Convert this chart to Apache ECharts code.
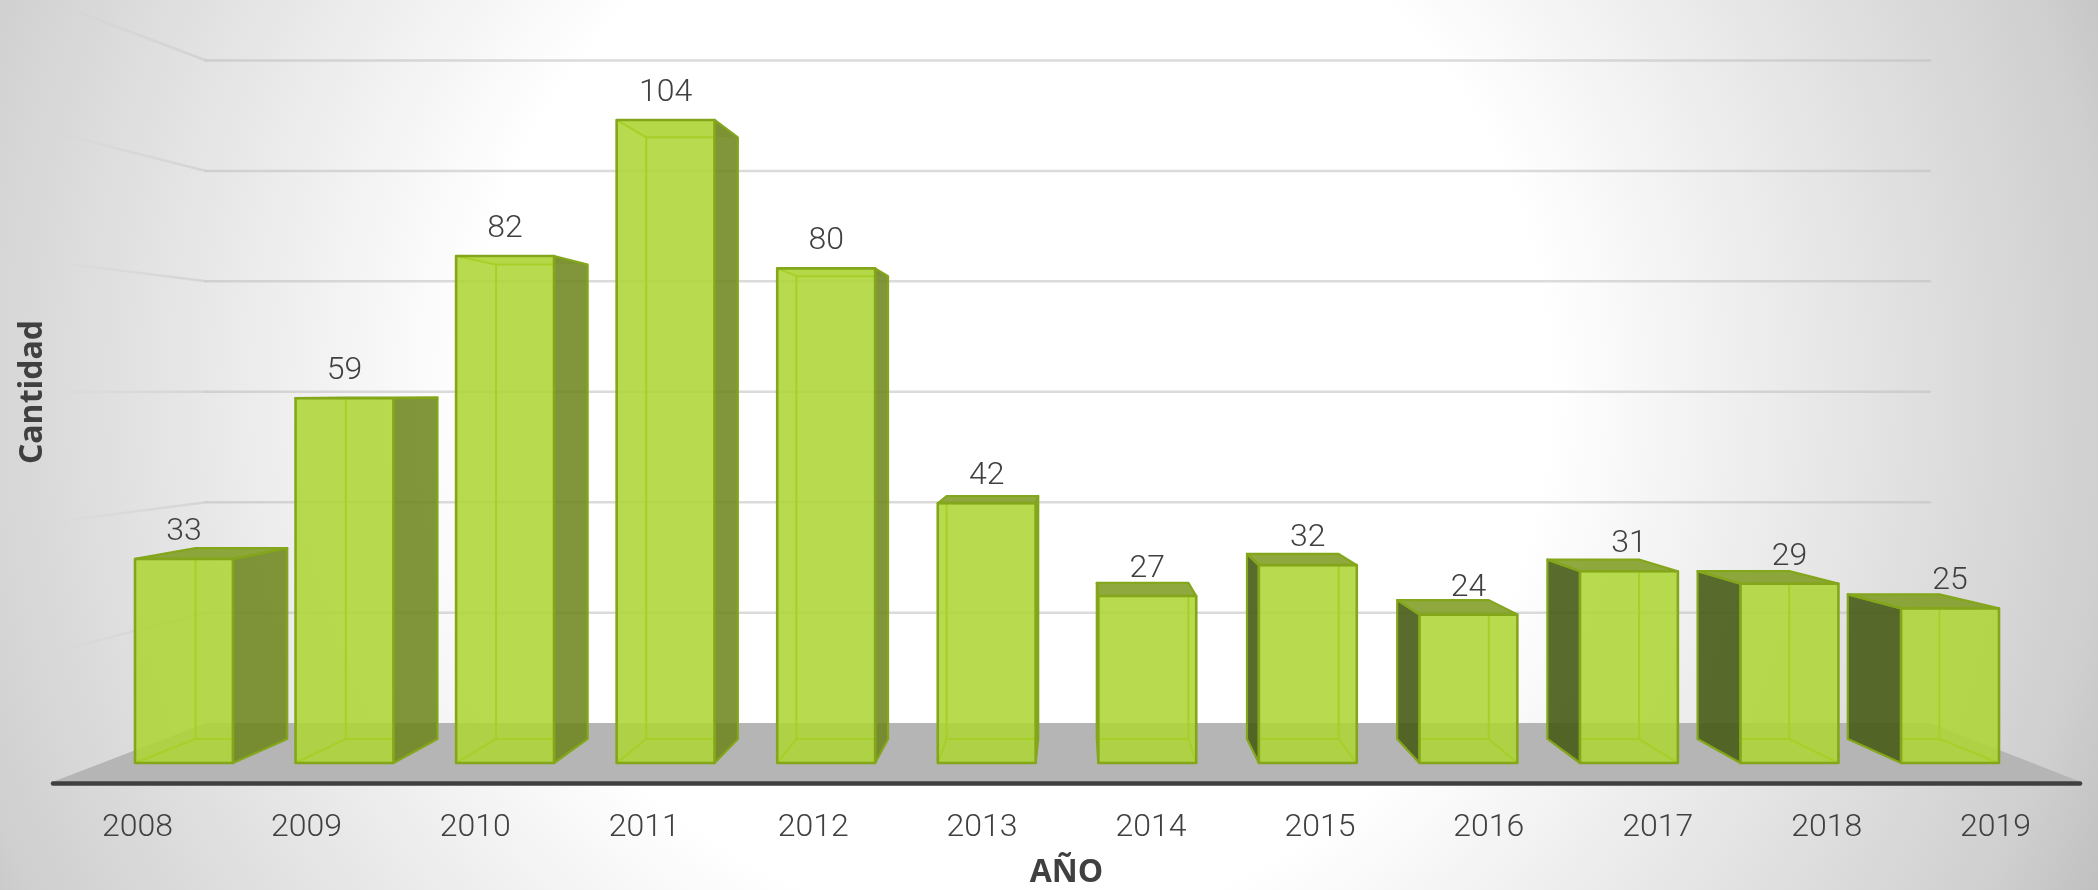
<!DOCTYPE html>
<html>
<head>
<meta charset="utf-8">
<style>html,body{margin:0;padding:0;background:#fff}#c{width:2098px;height:890px}</style>
<script src="https://cdn.jsdelivr.net/npm/echarts@6/dist/echarts.min.js"></script>
</head>
<body>
<div id="c"></div>
<script>
const categories = ['2008','2009','2010','2011','2012','2013','2014','2015','2016','2017','2018','2019'];
const cantidad = [33,59,82,104,80,42,27,32,24,31,29,25];
const gridTicks = [20,40,60,80,100,120];

const VP = [1075, 390];
const S_BAR_REAR = 0.9355, S_WALL = 0.893, S_FLOOR_FRONT = 1.0536;
const BAR_RATIO = 0.61, WALL_LEFT_EXTRA = 1.7, WALL_RIGHT_EXTRA = 2;
const proj = (p, s) => [VP[0] + (p[0]-VP[0])*s, VP[1] + (p[1]-VP[1])*s];

const chart = echarts.init(document.getElementById('c'), null, {renderer:'canvas'});
const G = echarts.graphic;
const poly = (pts, style) => ({type:'polygon', shape:{points:pts}, style});
const line = (a, b, stroke, w) => ({type:'line',
  shape:{x1:a[0],y1:a[1],x2:b[0],y2:b[1]}, style:{stroke, lineWidth:w, lineCap:'round', fill:null}});

function renderStage(params, api){
  const cs = params.coordSys;
  const base = api.coord([0, 0])[1];
  const L = [cs.x-WALL_LEFT_EXTRA, base], R = [cs.x+cs.width+WALL_RIGHT_EXTRA, base];
  return {type:'group', children:[
    poly([proj(L,S_FLOOR_FRONT),proj(L,S_WALL),proj(R,S_WALL),proj(R,S_FLOOR_FRONT)], {fill:'#b5b5b5'})
  ]};
}
function renderGrid(params, api){
  const cs = params.coordSys;
  const y = api.coord([0, api.value(0)])[1];
  const L = [cs.x-WALL_LEFT_EXTRA, y], R = [cs.x+cs.width+WALL_RIGHT_EXTRA, y];
  const a = proj(L,S_WALL), b = proj(R,S_WALL), c = proj(L,S_FLOOR_FRONT);
  const fade = new G.LinearGradient(a[0],a[1],c[0],c[1],[
    {offset:0,color:'rgba(200,200,200,0.6)'},{offset:1,color:'rgba(200,200,200,0)'}],true);
  return {type:'group', children:[ line(a,b,'rgba(190,190,190,0.55)',2.5), line(a,c,fade,2.5) ]};
}
function renderBar(params, api){
  const i = api.value(0), v = api.value(1);
  const top = api.coord([i, v]), bot = api.coord([i, 0]);
  const w = api.size([1,0])[0]*BAR_RATIO;
  const x0 = top[0]-w/2, x1 = top[0]+w/2;
  const fTL=[x0,top[1]], fTR=[x1,top[1]], fBL=[x0,bot[1]], fBR=[x1,bot[1]];
  const rTL=proj(fTL,S_BAR_REAR), rTR=proj(fTR,S_BAR_REAR), rBL=proj(fBL,S_BAR_REAR), rBR=proj(fBR,S_BAR_REAR);
  const inner='#a6cf28', edge='#84a61a';
  const ch=[];
  const rightSide = rTR[0] > x1+0.5, leftSide = rTL[0] < x0-0.5, topSide = rTL[1] < top[1];
  if(!topSide) ch.push(poly([fTL,fTR,rTR,rTL],{fill:'rgba(130,165,30,0.22)'}));
  if(rightSide) ch.push(poly([fTR,rTR,rBR,fBR],{fill:'rgba(108,133,26,0.86)',stroke:edge,lineWidth:2.2,lineJoin:'round'}));
  if(leftSide)  ch.push(poly([fTL,rTL,rBL,fBL],{fill:'rgba(72,91,23,0.9)',stroke:edge,lineWidth:2.2,lineJoin:'round'}));
  if(topSide) ch.push(poly([fTL,fTR,rTR,rTL],{fill:'rgba(125,155,30,0.86)',stroke:edge,lineWidth:2.2,lineJoin:'round'}));
  ch.push(poly([fTL,fTR,fBR,fBL],{fill:'rgba(173,213,54,0.88)'}));
  const ltop = Math.max(top[1], rTL[1]);
  const xa = Math.max(x0, rBL[0]), xb = Math.min(x1, rBR[0]);
  ch.push(line([xa,rBL[1]],[xb,rBR[1]],inner,2));
  if(!leftSide){ ch.push(line([rBL[0],ltop],rBL,inner,2), line(fBL,rBL,inner,2)); }
  if(!rightSide){ ch.push(line([rBR[0],ltop],rBR,inner,2), line(fBR,rBR,inner,2)); }
  if(!topSide){
    ch.push(line([xa,rTL[1]],[xb,rTR[1]],inner,2));
    if(!leftSide) ch.push(line(fTL,rTL,inner,2));
    if(!rightSide) ch.push(line(fTR,rTR,inner,2));
  }
  ch.push(poly([fTL,fTR,fBR,fBL],{fill:null,stroke:edge,lineWidth:2.6,lineJoin:'round'}));
  ch.push({type:'text', z2:10, style:{text:String(v), x:top[0], y:top[1]-27, align:'center', verticalAlign:'middle',
    fill:'#404040', font:'300 32px Roboto'}});
  return {type:'group', children:ch};
}

chart.setOption({
  animation:false,
  backgroundColor:new G.RadialGradient(1010,389,1250,[
    {offset:0,color:'#ffffff'},{offset:0.43,color:'#ffffff'},
    {offset:0.88,color:'#cfcfcf'},{offset:1,color:'#b8b8b8'}],true),
  grid:[
    {left:103.7,right:67.7,top:21,bottom:127,outerBoundsMode:'none'},
    {left:53,right:18,top:100,bottom:107,outerBoundsMode:'none'}
  ],
  xAxis:[
    {gridIndex:0,type:'category',data:categories,show:false},
    {gridIndex:1,type:'category',data:categories,z:5,name:'AÑO',nameLocation:'middle',nameGap:74,
     nameTextStyle:{fontFamily:'Open Sans',fontWeight:'bold',fontSize:32,color:'#404040'},
     axisLine:{onZero:false,lineStyle:{color:'#3f3f3f',width:4.5,cap:'round'}},axisTick:{show:false},
     axisLabel:{fontFamily:'Roboto',fontWeight:300,fontSize:32,color:'#404040',margin:29}}
  ],
  yAxis:[
    {gridIndex:0,type:'value',min:0,max:120,interval:20,name:'Cantidad',nameLocation:'middle',nameGap:55,nameRotate:90,
     nameTextStyle:{fontFamily:'Open Sans',fontWeight:'bold',fontSize:32,color:'#404040'},
     axisLine:{show:false},axisTick:{show:false},axisLabel:{show:false},splitLine:{show:false}},
    {gridIndex:1,type:'value',min:0,max:1,show:false,splitLine:{show:false}}
  ],
  series:[
    {type:'custom',xAxisIndex:0,yAxisIndex:0,z:1,silent:true,renderItem:renderStage,data:[[0]]},
    {type:'custom',xAxisIndex:0,yAxisIndex:0,z:1,silent:true,renderItem:renderGrid,data:gridTicks.map(t=>[t])},
    {type:'custom',xAxisIndex:0,yAxisIndex:0,z:3,silent:true,renderItem:renderBar,
     data:cantidad.map((v,i)=>[i,v])}
  ]
});
</script>
</body>
</html>
